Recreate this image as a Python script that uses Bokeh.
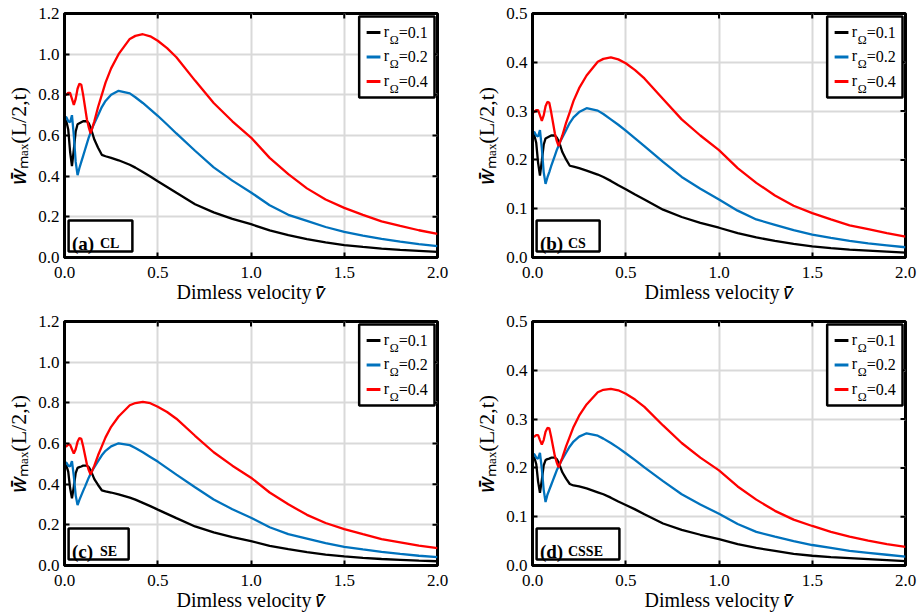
import math
from bokeh.plotting import figure
from bokeh.layouts import column, row
from bokeh.models import Range1d, FixedTicker, PrintfTickFormatter
from bokeh.core.properties import value
from bokeh.embed import file_html
from bokeh.resources import INLINE

# ---------------- data ----------------
V = [0, 0.01, 0.02, 0.03, 0.04, 0.05, 0.06, 0.07, 0.08, 0.09,
     0.10, 0.11, 0.12, 0.13, 0.14, 0.15, 0.16, 0.18, 0.20, 0.22,
     0.25, 0.29, 0.35, 0.38, 0.42, 0.46, 0.5, 0.55, 0.6, 0.7,
     0.8, 0.9, 1.0, 1.1, 1.2, 1.3, 1.4, 1.5, 1.6, 1.7,
     1.8, 1.9, 2.0]

CL_R01 = [0.68, 0.67, 0.63, 0.52, 0.45, 0.53, 0.62, 0.655, 0.66, 0.665,
          0.67, 0.67, 0.67, 0.66, 0.64, 0.61, 0.58, 0.54, 0.505, 0.498,
          0.49, 0.478, 0.456, 0.442, 0.42, 0.398, 0.375, 0.347, 0.318, 0.262,
          0.222, 0.19, 0.164, 0.133, 0.11, 0.09, 0.074, 0.061, 0.052, 0.044,
          0.038, 0.033, 0.028]
CL_R02 = [0.69, 0.69, 0.67, 0.665, 0.70, 0.60, 0.47, 0.405, 0.44, 0.47,
          0.50, 0.53, 0.56, 0.59, 0.615, 0.64, 0.66, 0.70, 0.74, 0.77,
          0.80, 0.82, 0.807, 0.788, 0.76, 0.729, 0.697, 0.654, 0.61, 0.525,
          0.443, 0.378, 0.32, 0.257, 0.21, 0.18, 0.15, 0.126, 0.108, 0.092,
          0.078, 0.066, 0.056]
CL_R04 = [0.80, 0.80, 0.81, 0.81, 0.78, 0.75, 0.78, 0.83, 0.855, 0.85,
          0.80, 0.74, 0.68, 0.64, 0.61, 0.64, 0.67, 0.74, 0.80, 0.86,
          0.93, 1.00, 1.075, 1.09, 1.098, 1.088, 1.066, 1.03, 0.985, 0.87,
          0.76, 0.67, 0.59, 0.49, 0.41, 0.34, 0.285, 0.244, 0.21, 0.178,
          0.155, 0.134, 0.116]

CS_R01 = [0.254, 0.250, 0.235, 0.194, 0.168, 0.198, 0.231, 0.244, 0.246, 0.248,
          0.250, 0.250, 0.250, 0.246, 0.239, 0.228, 0.216, 0.201, 0.188, 0.186,
          0.183, 0.178, 0.170, 0.165, 0.157, 0.148, 0.140, 0.129, 0.119, 0.098,
          0.083, 0.071, 0.061, 0.050, 0.041, 0.034, 0.028, 0.023, 0.019, 0.016,
          0.014, 0.012, 0.010]
CS_R02 = [0.257, 0.257, 0.250, 0.248, 0.261, 0.224, 0.175, 0.151, 0.164, 0.175,
          0.187, 0.198, 0.209, 0.220, 0.229, 0.239, 0.246, 0.261, 0.276, 0.287,
          0.298, 0.306, 0.301, 0.294, 0.283, 0.272, 0.260, 0.244, 0.228, 0.196,
          0.165, 0.141, 0.119, 0.096, 0.078, 0.067, 0.056, 0.047, 0.040, 0.034,
          0.029, 0.025, 0.021]
CS_R04 = [0.298, 0.298, 0.302, 0.302, 0.291, 0.280, 0.291, 0.310, 0.319, 0.317,
          0.298, 0.276, 0.254, 0.239, 0.228, 0.239, 0.250, 0.276, 0.298, 0.321,
          0.347, 0.373, 0.401, 0.407, 0.410, 0.406, 0.398, 0.384, 0.367, 0.325,
          0.283, 0.250, 0.220, 0.183, 0.153, 0.127, 0.106, 0.091, 0.078, 0.066,
          0.058, 0.050, 0.043]

SE_R01 = [0.498, 0.491, 0.462, 0.381, 0.330, 0.388, 0.454, 0.480, 0.484, 0.487,
          0.491, 0.491, 0.491, 0.484, 0.469, 0.447, 0.425, 0.396, 0.370, 0.365,
          0.359, 0.350, 0.334, 0.324, 0.308, 0.292, 0.275, 0.254, 0.233, 0.192,
          0.163, 0.139, 0.120, 0.097, 0.081, 0.066, 0.054, 0.045, 0.038, 0.032,
          0.028, 0.024, 0.021]
SE_R02 = [0.506, 0.506, 0.491, 0.487, 0.513, 0.440, 0.345, 0.297, 0.323, 0.345,
          0.367, 0.388, 0.410, 0.432, 0.451, 0.469, 0.484, 0.513, 0.542, 0.564,
          0.586, 0.601, 0.592, 0.578, 0.557, 0.534, 0.511, 0.479, 0.447, 0.385,
          0.325, 0.277, 0.235, 0.188, 0.154, 0.132, 0.110, 0.092, 0.079, 0.067,
          0.057, 0.048, 0.041]
SE_R04 = [0.586, 0.586, 0.594, 0.594, 0.572, 0.550, 0.572, 0.608, 0.627, 0.623,
          0.586, 0.542, 0.498, 0.469, 0.447, 0.469, 0.491, 0.542, 0.586, 0.630,
          0.682, 0.733, 0.788, 0.799, 0.805, 0.798, 0.781, 0.755, 0.722, 0.638,
          0.557, 0.491, 0.432, 0.359, 0.301, 0.249, 0.209, 0.179, 0.154, 0.130,
          0.114, 0.098, 0.085]

CSSE_R01 = [0.224, 0.221, 0.208, 0.172, 0.149, 0.175, 0.205, 0.216, 0.218, 0.219,
            0.221, 0.221, 0.221, 0.218, 0.211, 0.201, 0.191, 0.178, 0.167, 0.164,
            0.162, 0.158, 0.150, 0.146, 0.139, 0.131, 0.124, 0.115, 0.105, 0.086,
            0.073, 0.063, 0.054, 0.044, 0.036, 0.030, 0.024, 0.020, 0.017, 0.015,
            0.013, 0.011, 0.009]
CSSE_R02 = [0.228, 0.228, 0.221, 0.219, 0.231, 0.198, 0.155, 0.130, 0.145, 0.155,
            0.165, 0.175, 0.185, 0.195, 0.203, 0.211, 0.218, 0.231, 0.244, 0.254,
            0.264, 0.271, 0.266, 0.260, 0.251, 0.241, 0.230, 0.216, 0.201, 0.173,
            0.146, 0.125, 0.106, 0.085, 0.069, 0.059, 0.050, 0.042, 0.036, 0.030,
            0.026, 0.022, 0.018]
CSSE_R04 = [0.264, 0.264, 0.267, 0.267, 0.257, 0.248, 0.257, 0.274, 0.282, 0.281,
            0.264, 0.244, 0.224, 0.211, 0.201, 0.211, 0.221, 0.244, 0.264, 0.284,
            0.307, 0.330, 0.355, 0.360, 0.362, 0.359, 0.352, 0.340, 0.325, 0.287,
            0.251, 0.221, 0.195, 0.162, 0.135, 0.112, 0.094, 0.081, 0.069, 0.059,
            0.051, 0.044, 0.038]

X_TICKS = [0, 0.5, 1.0, 1.5, 2.0]
Y_TICKS_BIG = [0, 0.2, 0.4, 0.6, 0.8, 1.0, 1.2]
Y_TICKS_SMALL = [0, 0.1, 0.2, 0.3, 0.4, 0.5]
R_OMEGA = ["0.1", "0.2", "0.4"]
COLORS = ["#000000", "#0072BD", "#FF0000"]

SERIF = "Liberation Serif"
X_LABEL = "Dimless velocity \U0001D463\u0304"
Y_LABEL = "\U0001D464\u0304\u2098\u2090\u2093(L/2,t)"


def make_panel(curves, ymax, yticks, tag, code, box_right, width, height,
               bl, br, bt, bb):
    p = figure(width=width, height=height,
               x_range=Range1d(0, 2), y_range=Range1d(0, ymax),
               output_backend="svg", toolbar_location=None,
               min_border_left=bl, min_border_right=br,
               min_border_top=bt, min_border_bottom=bb)
    p.background_fill_color = "white"
    p.border_fill_color = "white"
    p.outline_line_color = "black"
    p.outline_line_width = 3

    for ax, ticks in ((p.xaxis[0], X_TICKS), (p.yaxis[0], yticks)):
        ax.ticker = FixedTicker(ticks=ticks)
        ax.formatter = PrintfTickFormatter(format="%.1f")
        ax.major_tick_in = 5
        ax.major_tick_out = 0
        ax.major_tick_line_width = 2
        ax.minor_tick_line_color = None
        ax.axis_line_color = "black"
        ax.axis_line_width = 3
        ax.major_label_text_font = SERIF
        ax.major_label_text_font_size = "17px"
        ax.major_label_text_color = "black"
        ax.axis_label_text_font = SERIF
        ax.axis_label_text_color = "black"
        ax.axis_label_text_font_style = "normal"
    p.xaxis[0].major_label_standoff = 9
    p.xaxis[0].axis_label_standoff = 0
    p.xaxis[0].axis_label_text_font_size = "20px"
    p.yaxis[0].major_label_standoff = 5
    p.yaxis[0].axis_label_standoff = 4
    p.yaxis[0].axis_label_text_font_size = "22px"
    p.xaxis[0].axis_label = X_LABEL
    p.yaxis[0].axis_label = Y_LABEL

    p.xgrid.ticker = FixedTicker(ticks=X_TICKS)
    p.ygrid.ticker = FixedTicker(ticks=yticks)
    for g in (p.xgrid[0], p.ygrid[0]):
        g.grid_line_color = "#d9d9d9"
        g.grid_line_width = 2

    # inner ticks on the top and right edges of the frame
    p.ray(x=X_TICKS, y=[ymax] * len(X_TICKS), length=5, length_units="screen",
          angle=-math.pi / 2, line_color="black", line_width=2)
    p.ray(x=[2] * len(yticks), y=yticks, length=5, length_units="screen",
          angle=math.pi, line_color="black", line_width=2)

    for ys, col in zip(curves, COLORS):
        p.line(V, ys, line_color=col, line_width=2.3)

    # legend box (top right)
    p.quad(left=[2 * 0.79], right=[2 * 0.992], top=[ymax * 0.988],
           bottom=[ymax * 0.656], fill_color="white",
           line_color="black", line_width=2.5)
    rows = [ymax * f for f in (0.922, 0.822, 0.721)]
    p.segment(x0=[2 * 0.81] * 3, y0=rows, x1=[2 * 0.847] * 3, y1=rows,
              line_color=COLORS, line_width=3)
    lx = [2 * 0.856] * 3
    p.text(x=lx, y=rows, text=["r"] * 3, text_font=value(SERIF),
           text_font_size="16px", text_align="left",
           text_baseline="middle", text_color="black", y_offset=-1)
    p.text(x=lx, y=rows, text=["\u03A9"] * 3, text_font=value(SERIF),
           text_font_size="12px", text_align="left",
           text_baseline="middle", text_color="black",
           x_offset=6, y_offset=7)
    p.text(x=lx, y=rows, text=["=" + r for r in R_OMEGA],
           text_font=value(SERIF), text_font_size="16px",
           text_align="left", text_baseline="middle", text_color="black",
           x_offset=15)

    # panel tag box (bottom left)
    p.quad(left=[2 * 0.011], right=[2 * box_right], top=[ymax * 0.152],
           bottom=[ymax * 0.025], fill_color="white",
           line_color="black", line_width=2.5)
    p.text(x=[2 * 0.02], y=[ymax * 0.058], text=[tag],
           text_font=value(SERIF), text_font_size="19px",
           text_font_style="bold", text_align="left",
           text_baseline="alphabetic", text_color="black")
    p.text(x=[2 * 0.02], y=[ymax * 0.058], text=[code],
           text_font=value(SERIF), text_font_size="14px",
           text_font_style="bold", text_align="left",
           text_baseline="alphabetic", text_color="black",
           x_offset=28)
    return p


pa = make_panel([CL_R01, CL_R02, CL_R04], 1.2, Y_TICKS_BIG, "(a)", "CL", 0.182,
                470, 308, 64, 33, 13, 51)
pb = make_panel([CS_R01, CS_R02, CS_R04], 0.5, Y_TICKS_SMALL, "(b)", "CS", 0.18,
                447, 308, 62, 12, 13, 51)
pc = make_panel([SE_R01, SE_R02, SE_R04], 1.2, Y_TICKS_BIG, "(c)", "SE", 0.172,
                470, 307, 64, 33, 13, 50)
pd = make_panel([CSSE_R01, CSSE_R02, CSSE_R04], 0.5, Y_TICKS_SMALL, "(d)", "CSSE",
                0.233, 447, 307, 62, 12, 13, 50)

layout = column(row(pa, pb), row(pc, pd))
open("out.html", "w").write(file_html(layout, INLINE))
